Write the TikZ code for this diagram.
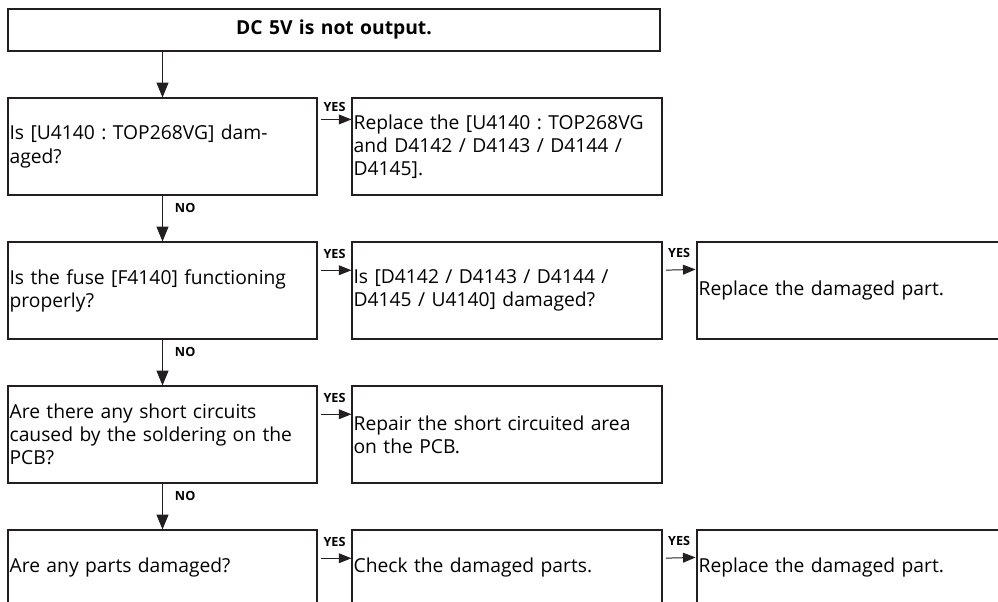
\documentclass[tikz,border=0pt]{standalone}
\usepackage{fontspec}
\setmainfont{Open Sans}
\usepackage{tikz}
\usetikzlibrary{arrows.meta}
\definecolor{inkblack}{RGB}{35, 31, 32}
\frenchspacing

\begin{document}
\begin{tikzpicture}[
  box/.style={draw=inkblack, line width=0.8pt, rectangle, align=left, inner xsep=0.04cm, inner ysep=0pt, font=\fontsize{13.7}{16.4}\selectfont},
  qbox/.style={box, text width=7.645cm, minimum height=2.425cm},
  abox/.style={box, text width=7.67cm, minimum height=2.425cm},
  rbox/.style={box, line width=2pt, text width=7.745cm, minimum height=2.425cm},
  flow/.style={draw=inkblack, -{Triangle[length=10.5pt, width=8.5pt]}, line width=0.7pt},
  yesflow/.style={draw=inkblack, -{Triangle[length=9pt, width=7pt]}, line width=0.7pt, shorten <=0.08cm},
  tag/.style={font=\bfseries\fontsize{9}{10}\selectfont, inner sep=0pt}
]
\clip (0, 0) rectangle (24.95, -15.05);

% Start
\node[box, line width=2pt, align=center, text width=16.22cm, minimum height=1.05cm, font=\bfseries\fontsize{13.7}{16}\selectfont] (start) at (8.35, -0.75) {DC 5V is not output.};

% Checks
\node[qbox] (q1) at (4.0625, -3.6625) {Is [U4140 : TOP268VG] dam-\\aged?};
\node[qbox] (q2) at (4.0625, -7.2625) {Is the fuse [F4140] functioning\\properly?};
\node[qbox] (q3) at (4.0625, -10.8625) {Are there any short circuits\\caused by the soldering on the\\PCB?};
\node[qbox, minimum height=1.85cm] (q4) at (4.0625, -14.175) {Are any parts damaged?};

% Actions
\node[abox] (a1) at (12.675, -3.6625) {Replace the [U4140 : TOP268VG\\and D4142 / D4143 / D4144 /\\D4145].};
\node[abox] (a2) at (12.675, -7.2625) {Is [D4142 / D4143 / D4144 /\\D4145 / U4140] damaged?};
\node[abox] (a3) at (12.675, -10.8625) {Repair the short circuited area\\on the PCB.};
\node[abox, minimum height=1.85cm] (a4) at (12.675, -14.175) {Check the damaged parts.};

% Replace
\node[rbox] (r2) at (21.3375, -7.2625) {Replace the damaged part.};
\node[rbox, minimum height=1.85cm] (r4) at (21.3375, -14.175) {Replace the damaged part.};

% NO branch
\draw[flow] (q1.north |- start.south) -- (q1.north);
\draw[flow] (q1.south) -- (q2.north) node[tag, pos=0.27, anchor=west, xshift=0.3cm] {NO};
\draw[flow] (q2.south) -- (q3.north) node[tag, pos=0.27, anchor=west, xshift=0.3cm] {NO};
\draw[flow] (q3.south) -- (q4.north) node[tag, pos=0.27, anchor=west, xshift=0.3cm] {NO};

% YES branch
\draw[yesflow] ([yshift=-0.55cm]q1.north east) -- ([yshift=-0.55cm]a1.north west) node[tag, midway, above=5pt] {YES};
\draw[yesflow] ([yshift=-0.72cm]q2.north east) -- ([yshift=-0.72cm]a2.north west) node[tag, midway, above=8pt] {YES};
\draw[yesflow] ([yshift=-0.72cm]q3.north east) -- ([yshift=-0.72cm]a3.north west) node[tag, midway, above=8pt] {YES};
\draw[yesflow] ([yshift=-0.72cm]q4.north east) -- ([yshift=-0.72cm]a4.north west) node[tag, midway, above=8pt] {YES};
\draw[yesflow] ([yshift=-0.72cm]a2.north east) -- ([yshift=-0.72cm]r2.north west) node[tag, midway, above=8pt] {YES};
\draw[yesflow] ([yshift=-0.72cm]a4.north east) -- ([yshift=-0.72cm]r4.north west) node[tag, midway, above=8pt] {YES};

\end{tikzpicture}
\end{document}
